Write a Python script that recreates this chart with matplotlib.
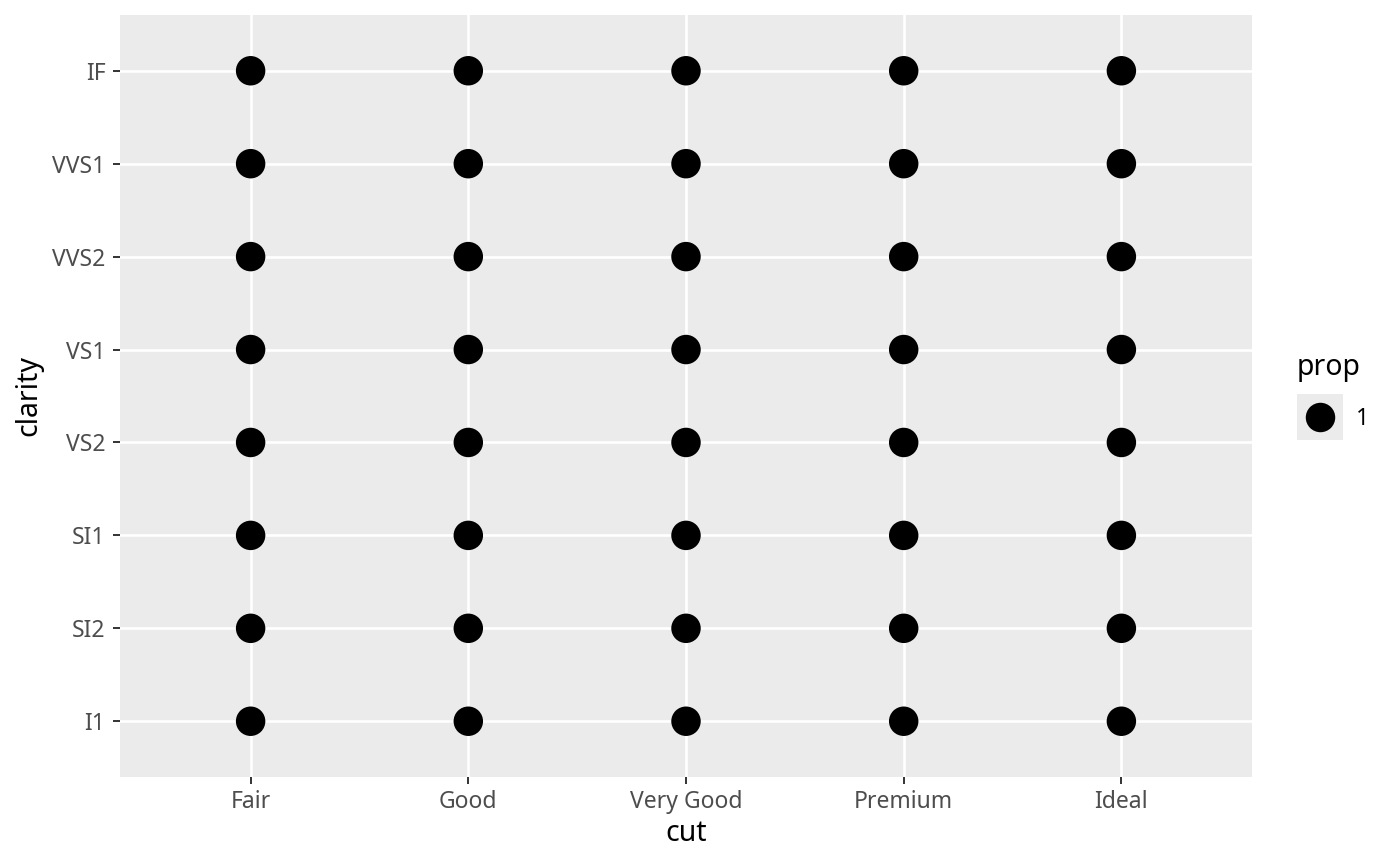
import numpy as np
import matplotlib.pyplot as plt

plt.rcParams['font.family'] = ['Noto Sans', 'DejaVu Sans']

cut = ["Fair", "Good", "Very Good", "Premium", "Ideal"]
clarity = ["I1", "SI2", "SI1", "VS2", "VS1", "VVS2", "VVS1", "IF"]
# proportion for every cut x clarity cell (all equal to 1)
prop = np.ones((len(clarity), len(cut)))

fig = plt.figure(figsize=(14, 8.66), dpi=100)
ax = fig.add_axes([120 / 1400, 1 - 777 / 866, 1132 / 1400, 762 / 866])
ax.set_facecolor("#EBEBEB")

xi, yi = np.meshgrid(np.arange(len(cut)), np.arange(len(clarity)))
ax.scatter(xi.ravel(), yi.ravel(), s=prop.ravel() * 450, color="black",
           linewidths=0, zorder=3)

ax.set_xlim(-0.6, len(cut) - 0.4)
ax.set_ylim(-0.6, len(clarity) - 0.4)
ax.set_xticks(range(len(cut)))
ax.set_xticklabels(cut)
ax.set_yticks(range(len(clarity)))
ax.set_yticklabels(clarity)
ax.grid(True, color="white", linewidth=1.9)
ax.set_axisbelow(True)
for s in ax.spines.values():
    s.set_visible(False)
ax.tick_params(axis="both", length=5, width=1.4, color="#333333",
               labelcolor="#4D4D4D", labelsize=16.5)
ax.tick_params(axis="x", pad=4.5)
ax.tick_params(axis="y", pad=5.5)
ax.set_xlabel("cut", fontsize=20.5, labelpad=3.5)
ax.set_ylabel("clarity", fontsize=20.5, labelpad=6)

# legend drawn by hand
kax = fig.add_axes([1297 / 1400, 1 - 440 / 866, 46 / 1400, 46 / 866])
kax.set_facecolor("#EBEBEB")
kax.scatter([0], [0], s=prop[0, 0] * 450, color="black", linewidths=0)
kax.set_xlim(-1, 1)
kax.set_ylim(-1, 1)
kax.set_xticks([])
kax.set_yticks([])
for s in kax.spines.values():
    s.set_visible(False)
fig.text(1297 / 1400, 1 - 368 / 866, "prop", fontsize=20.5, va="center", ha="left")
fig.text(1356 / 1400, 1 - 419 / 866, "1", fontsize=16.5, va="center", ha="left")

fig.savefig("out.png", dpi=100)
